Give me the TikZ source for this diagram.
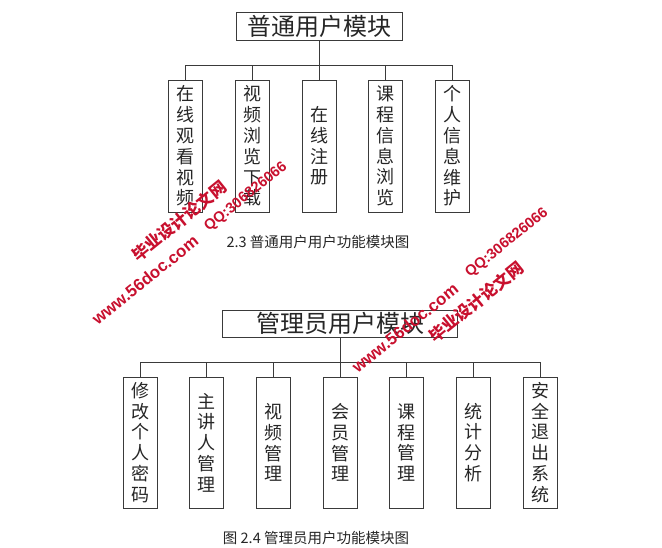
\documentclass[tikz,border=0pt]{standalone}
\usepackage{fontspec}
\setmainfont{Noto Sans CJK SC}
\setsansfont{Liberation Sans}
\usetikzlibrary{positioning}
\definecolor{ln}{HTML}{3A3A3A}
\definecolor{txt}{HTML}{262626}
\definecolor{wmred}{HTML}{C8102E}

\begin{document}
\begin{tikzpicture}[x=1pt,y=-1pt,
  head/.style={draw=ln,line width=0.9pt,inner sep=0pt,text=txt,
               font=\fontsize{24}{24}\selectfont},
  mod/.style={draw=ln,line width=0.9pt,inner sep=0pt,align=center,text=txt,
              minimum width=34pt,font=\fontsize{18}{20.8}\selectfont},
  link/.style={ln,line width=0.9pt},
  figcap/.style={text=txt,font=\fontsize{14.5}{15}\selectfont},
  wm/.style={text=wmred,font=\bfseries\sffamily,rotate=39,inner sep=0pt}]
\useasboundingbox (0,0) rectangle (662,548);

% 普通用户
\node[head,minimum width=166pt,minimum height=28pt] (user) at (319,26) {普通用户模块};
\coordinate (ubus) at (319,65);
\node[mod,minimum height=132pt] (u1) at (185,146) {在\\线\\观\\看\\视\\频};
\node[mod,minimum height=132pt] (u2) at (252,146) {视\\频\\浏\\览\\下\\载};
\node[mod,minimum height=132pt] (u3) at (319,146) {在\\线\\注\\册};
\node[mod,minimum height=132pt] (u4) at (385,146) {课\\程\\信\\息\\浏\\览};
\node[mod,minimum height=132pt] (u5) at (452,146) {个\\人\\信\\息\\维\\护};
\draw[link] (user.south) -- (ubus);
\foreach \c in {u1,u2,u3,u4,u5} \draw[link] (ubus) -| (\c.north);
\node[figcap] (ucap) at (318,242) {2.3 普通用户用户功能模块图};

% 管理员
\node[head,minimum width=235pt,minimum height=27pt] (admin) at (340,323.5) {管理员用户模块};
\coordinate (abus) at (340,362);
\node[mod,minimum height=131pt] (a1) at (140,442.5) {修\\改\\个\\人\\密\\码};
\node[mod,minimum height=131pt] (a2) at (206.7,442.5) {主\\讲\\人\\管\\理};
\node[mod,minimum height=131pt] (a3) at (273.3,442.5) {视\\频\\管\\理};
\node[mod,minimum height=131pt] (a4) at (340,442.5) {会\\员\\管\\理};
\node[mod,minimum height=131pt] (a5) at (406.7,442.5) {课\\程\\管\\理};
\node[mod,minimum height=131pt] (a6) at (473.3,442.5) {统\\计\\分\\析};
\node[mod,minimum height=131pt] (a7) at (540,442.5) {安\\全\\退\\出\\系\\统};
\draw[link] (admin.south) -- (abus);
\foreach \c in {a1,a2,a3,a4,a5,a6,a7} \draw[link] (abus) -| (\c.north);
\node[figcap] (acap) at (316,538) {图 2.4 管理员用户功能模块图};

% watermarks
\node[wm,font=\bfseries\fontsize{16.5}{17}\selectfont] (wmA) at (179,221) {毕业设计论文网};
\node[wm,font=\bfseries\sffamily\fontsize{14.7}{15}\selectfont] (wmB) at (246,197) {QQ:306826066};
\node[wm,font=\bfseries\sffamily\fontsize{16.8}{17}\selectfont] (wmC) at (145,280) {www.56doc.com};
\node[wm,font=\bfseries\sffamily\fontsize{16.8}{17}\selectfont] (wmD) at (405,328) {www.56doc.com};
\node[wm,font=\bfseries\sffamily\fontsize{14.7}{15}\selectfont] (wmE) at (507,243) {QQ:306826066};
\node[wm,font=\bfseries\fontsize{16.5}{17}\selectfont] (wmF) at (476,302) {毕业设计论文网};
\end{tikzpicture}
\end{document}
